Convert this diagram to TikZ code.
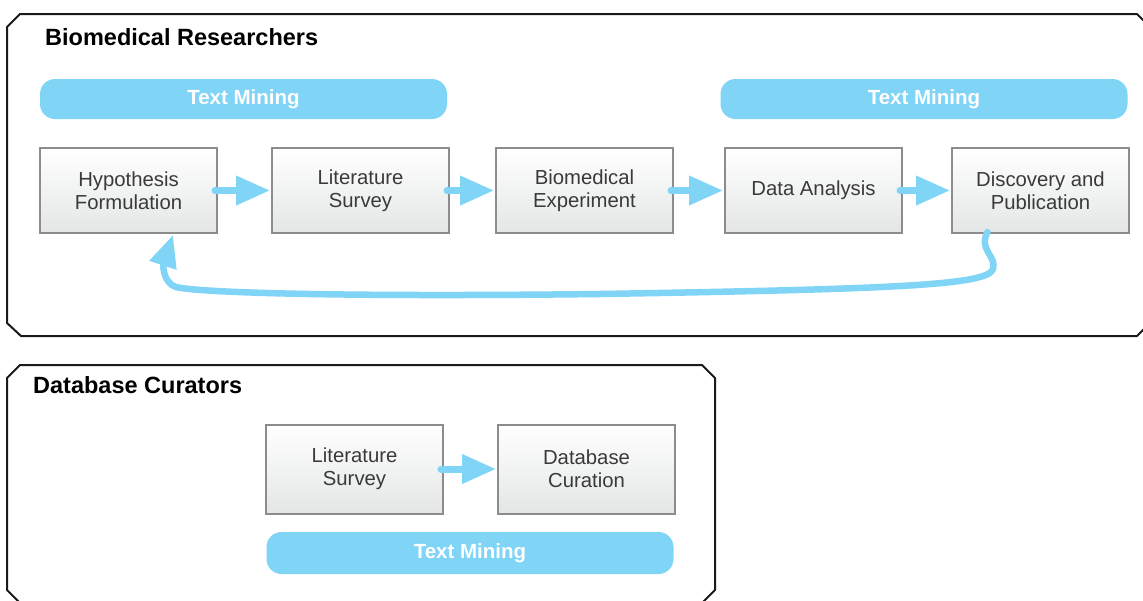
\documentclass[tikz,border=0pt]{standalone}
\usepackage{fontspec}
\setmainfont{Liberation Sans}
\usetikzlibrary{arrows.meta,shadows}
\definecolor{tmblue}{RGB}{128,212,246}
\definecolor{boxedge}{RGB}{140,140,140}
\definecolor{boxtext}{RGB}{58,58,58}
\definecolor{boxlow}{RGB}{228,230,230}
\definecolor{frame}{RGB}{26,26,26}
\tikzset{
  stagebox/.style={draw=boxedge, line width=2pt, inner sep=0pt,
    minimum width=177pt, minimum height=85pt, align=center,
    top color=white, bottom color=boxlow, text=boxtext,
    font=\fontsize{20.3}{23}\selectfont,
    drop shadow={shadow xshift=1.2pt, shadow yshift=-1.2pt, opacity=0.25, fill=black}},
  minebar/.style={fill=tmblue, rounded corners=15pt, inner sep=0pt,
    minimum width=407pt, minimum height=40pt, text=white,
    font=\fontsize{20.5}{24}\selectfont\bfseries},
  grouptitle/.style={anchor=base west, inner sep=0pt, text=black,
    font=\fontsize{23.5}{28}\selectfont\bfseries},
  groupframe/.style={draw=frame, line width=2pt, line join=round},
  flow/.style={draw=tmblue, line width=7pt, line cap=round,
    -{Triangle[length=34pt,width=28pt,line cap=butt]}},
  loopback/.style={draw=tmblue, line width=6.5pt, line cap=round,
    -{Triangle[length=32pt,width=27pt,line cap=butt]}},
}
\begin{document}
\begin{tikzpicture}[x=1pt,y=-1pt]
\useasboundingbox (0,0) rectangle (1143,600);

% group frames with chamfered corners
\draw[groupframe] (7,27) -- (20,14) -- (1137,14) -- (1150,27) -- (1150,323)
  -- (1137,336) -- (21,336) -- (7,323) -- cycle;
\draw[groupframe] (7,378) -- (20,365) -- (702,365) -- (715,378) -- (715,590)
  -- (702,603) -- (20,603) -- (7,590) -- cycle;

\node[grouptitle] (t1) at (45,45) {Biomedical Researchers};
\node[grouptitle] (t2) at (33,393) {Database Curators};

% text mining bands
\node[minebar] (m1) at (243.5,99) {Text Mining};
\node[minebar] (m2) at (924,99) {Text Mining};
\node[minebar, minimum height=42pt] (m3) at (470,553) {Text Mining};

% research workflow
\node[stagebox] (d1) at (128.5,190.5) {Hypothesis\\Formulation};
\node[stagebox] (d2) at (360.5,190.5) {Literature\\Survey};
\node[stagebox] (d3) at (584.5,190.5) {Biomedical\\Experiment};
\node[stagebox] (d4) at (813.5,190.5) {Data Analysis};
\node[stagebox] (d5) at (1040.5,190.5) {Discovery and\\Publication};

% curation workflow
\node[stagebox, minimum height=89pt] (c1) at (354.5,469) {Literature\\Survey};
\node[stagebox, minimum height=89pt] (c2) at (586.5,469) {Database\\Curation};

\draw[flow] ([xshift=-3pt]d1.east) -- ([xshift=-1pt]d2.west);
\draw[flow] ([xshift=-3pt]d2.east) -- ([xshift=-1pt]d3.west);
\draw[flow] ([xshift=-3pt]d3.east) -- ([xshift=-1pt]d4.west);
\draw[flow] ([xshift=-3pt]d4.east) -- ([xshift=-1pt]d5.west);
\draw[flow] ([xshift=-3pt]c1.east) -- ([xshift=-1pt]c2.west);

% feedback loop from publication back to hypothesis
\coordinate (lbstart) at ([xshift=-53pt,yshift=2pt]d5.south);
\coordinate (lbend) at ([xshift=44.5pt,yshift=-1pt]d1.south);
\draw[loopback] (lbstart)
  .. controls (978,250) and (997,256) .. (993,269)
  .. controls (988,285) and (900,289) .. (600,294)
  .. controls (350,297) and (200,293) .. (176,287)
  .. controls (163,283) and (163,265) .. (lbend);
\end{tikzpicture}
\end{document}
